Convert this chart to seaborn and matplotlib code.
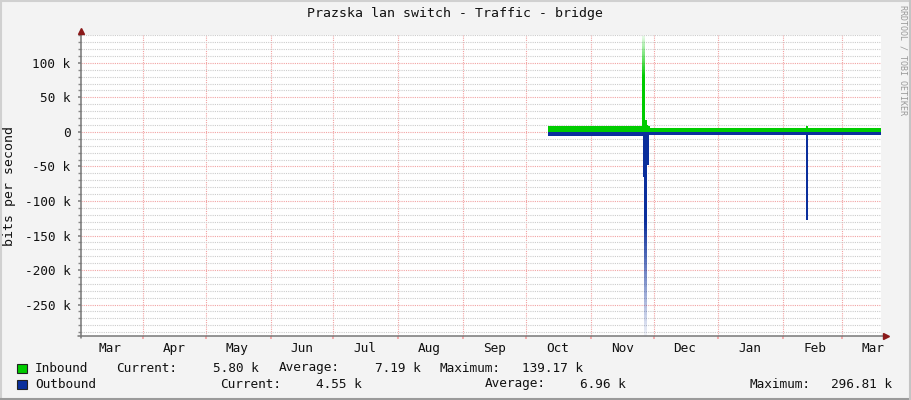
import numpy as np
import pandas as pd
import matplotlib
matplotlib.use("Agg")
import matplotlib.pyplot as plt
import matplotlib.dates as mdates
import matplotlib.ticker as mticker
from matplotlib.lines import Line2D
from matplotlib.patches import Rectangle
import seaborn as sns

# Traffic samples in kbit/s, drawn as steps (value holds until next time)
in_times = ["2009-10-11 12:00", "2009-11-25 16:00", "2009-11-26 20:00", "2009-11-27 16:00",
            "2009-11-28 07:00", "2009-11-29 06:00", "2010-02-11 18:00", "2010-02-12 20:00",
            "2010-03-19 16:00"]
in_values = [8.7, 139.17, 17.0, 10.0, 8.0, 5.8, 9.0, 5.8, 5.8]

out_times = ["2009-10-11 12:00", "2009-11-25 18:00", "2009-11-26 04:00", "2009-11-26 14:00",
             "2009-11-27 22:00", "2009-11-28 16:00", "2010-02-11 18:00", "2010-02-12 20:00",
             "2010-03-19 16:00"]
out_values = [-5.5, -81.0, -65.0, -296.81, -48.0, -5.0, -127.0, -4.6, -4.6]

range_start = "2009-03-02 09:00"
range_end = "2010-03-19 16:00"
y_min, y_max = -295.5, 140.3

series_names = ["Inbound", "Outbound"]
series_colors = ["#00cc00", "#0b2f9c"]
current_vals = ["5.80 k", "4.55 k"]
average_vals = ["7.19 k", "6.96 k"]
maximum_vals = ["139.17 k", "296.81 k"]

title = "Prazska lan switch - Traffic - bridge"
mono = "DejaVu Sans Mono"

sns.set_theme(style="white")
plt.rcParams["font.family"] = [mono, "DejaVu Sans"]

W, H = 911, 400
fig = plt.figure(figsize=(W / 100, H / 100), dpi=100, facecolor="#f3f3f3")
ax = fig.add_axes([81 / W, (H - 336) / H, 800 / W, 301 / H])
ax.set_facecolor("white")

x0 = mdates.date2num(pd.Timestamp(range_start))
x1 = mdates.date2num(pd.Timestamp(range_end))


def grad_area(times, values, color, fade_from, fade_to, sign):
    # solid near zero, fading out towards the extreme, in horizontal slices
    x = mdates.date2num(pd.to_datetime(times))
    mag = np.abs(np.asarray(values, dtype=float))
    edges = np.concatenate([[0], np.linspace(fade_from, fade_to, 40)])
    for lo, hi in zip(edges[:-1], edges[1:]):
        mid = (lo + hi) / 2
        a = 1.0 if hi <= fade_from else max(0.05, (fade_to - mid) / (fade_to - fade_from))
        top = np.clip(mag, lo, hi)
        ax.fill_between(x, sign * lo, sign * top, step="post", lw=0, color=color,
                        alpha=a, zorder=3, antialiased=False)


grad_area(in_times, in_values, series_colors[0], 80, 145, 1)
grad_area(out_times, out_values, series_colors[1], 130, 305, -1)

ax.set_xlim(x0, x1)
ax.set_ylim(y_min, y_max)

# grid
dots = (0, (1, 1))
ax.yaxis.set_major_locator(mticker.MultipleLocator(50))
ax.yaxis.set_minor_locator(mticker.MultipleLocator(10))
ax.yaxis.set_major_formatter(mticker.FuncFormatter(lambda v, p: "0" if v == 0 else f"{int(v)} k"))
ax.xaxis.set_major_locator(mdates.MonthLocator())
ax.xaxis.set_major_formatter(mticker.NullFormatter())
ax.xaxis.set_minor_locator(mdates.MonthLocator(bymonthday=16))
ax.xaxis.set_minor_formatter(mdates.DateFormatter("%b"))
ax.set_axisbelow(True)
ax.grid(which="minor", axis="y", color="#cccccc", ls=dots, lw=0.8, zorder=0)
ax.grid(which="major", axis="y", color="#f2a3a3", ls=dots, lw=0.8, zorder=1)
ax.grid(which="major", axis="x", color="#f2a3a3", ls=dots, lw=0.8, zorder=1)

for s in ax.spines.values():
    s.set_visible(False)
ax.tick_params(axis="y", which="both", length=2, color="#888888", direction="out",
               labelsize=9.2, pad=5.5, left=True)
ax.tick_params(axis="x", which="major", length=2.5, color="#f2a3a3", direction="out", bottom=True)
ax.tick_params(axis="x", which="minor", length=0, labelsize=9.2, pad=4, bottom=True)
for lab in ax.get_yticklabels() + ax.get_xticklabels(minor=True):
    lab.set_color("#111111")

# axes with arrows
ax.plot([-0.004, 1.006], [0, 0], transform=ax.transAxes, color="#777777", lw=1.1,
        clip_on=False, zorder=5)
ax.plot([0, 0], [-0.008, 1.012], transform=ax.transAxes, color="#777777", lw=1.1,
        clip_on=False, zorder=5)
ax.plot(1.006, 0, marker=">", ms=4, color="#8b1a1a", transform=ax.transAxes, clip_on=False, zorder=6)
ax.plot(0, 1.014, marker="^", ms=4, color="#8b1a1a", transform=ax.transAxes, clip_on=False, zorder=6)


def px(x, y):
    return x / W, 1 - y / H


fig.text(*px(455, 14), title, ha="center", va="center", fontsize=9.5, color="#111111")
fig.text(*px(10, 186), "bits per second", rotation=90, ha="center", va="center",
         fontsize=9.5, color="#111111")
fig.text(*px(903, 60), "RRDTOOL / TOBI OETIKER", rotation=270, ha="center", va="center",
         fontsize=6, color="#999999")

# legend block
rows = [368, 384]
cols = [
    (116, 259, 279, 421, 440, 583),
    (220, 362, 485, 626, 749, 892),
]
for i in range(2):
    y = rows[i]
    c = cols[i]
    fig.patches.append(Rectangle(px(17, y + 4.5), 10 / W, 9 / H, transform=fig.transFigure,
                                 facecolor=series_colors[i], edgecolor="#222222", lw=0.8))
    kw = dict(va="center", fontsize=9.2, color="#111111")
    fig.text(*px(35, y), series_names[i], ha="left", **kw)
    fig.text(*px(c[0], y), "Current:", ha="left", **kw)
    fig.text(*px(c[1], y), current_vals[i], ha="right", **kw)
    fig.text(*px(c[2], y), "Average:", ha="left", **kw)
    fig.text(*px(c[3], y), average_vals[i], ha="right", **kw)
    fig.text(*px(c[4], y), "Maximum:", ha="left", **kw)
    fig.text(*px(c[5], y), maximum_vals[i], ha="right", **kw)

# 3d frame of the canvas
fig.add_artist(Line2D([0, 1], [1 - 0.5 / H, 1 - 0.5 / H], transform=fig.transFigure, color="#d0d0d0", lw=1.5))
fig.add_artist(Line2D([0.5 / W, 0.5 / W], [0, 1], transform=fig.transFigure, color="#d0d0d0", lw=1.5))
fig.add_artist(Line2D([0, 1], [0.8 / H, 0.8 / H], transform=fig.transFigure, color="#9a9a9a", lw=1.5))
fig.add_artist(Line2D([1 - 0.8 / W, 1 - 0.8 / W], [0, 1], transform=fig.transFigure, color="#c4c4c4", lw=1.5))

fig.savefig("out.png", dpi=100, facecolor=fig.get_facecolor())
